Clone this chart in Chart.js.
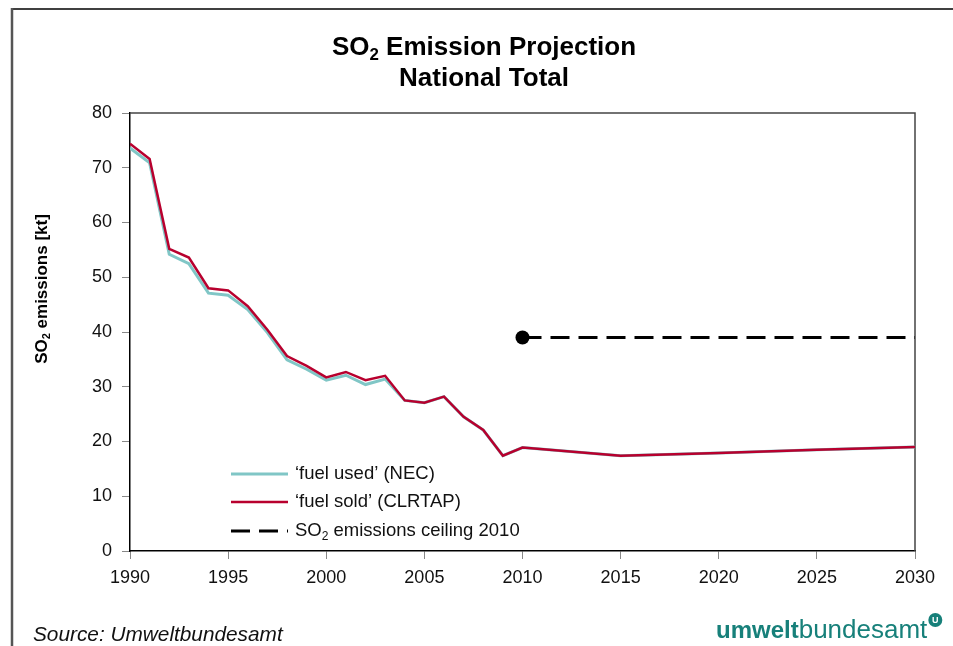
<!DOCTYPE html>
<html>
<head>
<meta charset="utf-8">
<script src="https://cdn.jsdelivr.net/npm/chart.js@4.4.0/dist/chart.umd.min.js"></script>
<style>
  html, body { margin: 0; padding: 0; background: #fff; }
  #wrap { width: 953px; height: 646px; }
</style>
</head>
<body>
<div id="wrap"><canvas id="so2Chart" width="953" height="646"></canvas></div>
<script>
// values
const years = [1990, 1991, 1992, 1993, 1994, 1995, 1996, 1997, 1998, 1999,
               2000, 2001, 2002, 2003, 2004, 2005, 2006, 2007, 2008, 2009,
               2010, 2015, 2020, 2025, 2030];
const fuelUsed = [73.6, 70.9, 54.2, 52.5, 47.1, 46.7, 44.1, 39.9, 34.9, 33.2,
                  31.2, 32.1, 30.4, 31.4, 27.5, 27.1, 28.2, 24.5, 22.1, 17.4,
                  18.9, 17.4, 17.9, 18.5, 19.0];
const fuelSold = [74.4, 71.6, 55.2, 53.6, 48.0, 47.6, 44.7, 40.4, 35.6, 33.8,
                  31.7, 32.7, 31.2, 32.0, 27.5, 27.1, 28.2, 24.5, 22.1, 17.4,
                  18.9, 17.4, 17.9, 18.5, 19.0];
const ceilingYears = [2010, 2030];
const ceilingValues = [39, 39];

const xTicks = [1990, 1995, 2000, 2005, 2010, 2015, 2020, 2025, 2030];
const yTicks = [0, 10, 20, 30, 40, 50, 60, 70, 80];

// text pieces, [text, isSubscript]
const titleLines = [
  [['SO', false], ['2', true], [' Emission Projection', false]],
  [['National Total', false]]
];
const yTitle = [['SO', false], ['2', true], [' emissions [kt]', false]];
const legendLabels = [
  [['\u2018fuel used\u2019 (NEC)', false]],
  [['\u2018fuel sold\u2019 (CLRTAP)', false]],
  [['SO', false], ['2', true], [' emissions ceiling 2010', false]]
];

const FONT = '"Liberation Sans", Arial, sans-serif';
const TEAL = '#17807a';

function pts(xs, ys) {
  return xs.map((x, i) => ({ x: x, y: ys[i] }));
}

function richWidth(ctx, parts, size, weight, style) {
  let w = 0;
  parts.forEach(p => {
    ctx.font = style + ' ' + weight + ' ' + (p[1] ? size * 0.65 : size) + 'px ' + FONT;
    w += ctx.measureText(p[0]).width;
  });
  return w;
}

function drawRich(ctx, parts, x, y, size, weight, style, align) {
  const total = richWidth(ctx, parts, size, weight, style);
  let cx = align === 'center' ? x - total / 2 : x;
  ctx.textAlign = 'left';
  ctx.textBaseline = 'alphabetic';
  parts.forEach(p => {
    ctx.font = style + ' ' + weight + ' ' + (p[1] ? size * 0.65 : size) + 'px ' + FONT;
    ctx.fillText(p[0], cx, y + (p[1] ? size * 0.2 : 0));
    cx += ctx.measureText(p[0]).width;
  });
}

const decorations = {
  id: 'decorations',
  beforeDraw(chart) {
    const ctx = chart.ctx;
    ctx.save();
    ctx.fillStyle = '#fff';
    ctx.fillRect(0, 0, chart.width, chart.height);
    ctx.restore();
  },
  beforeDatasetsDraw(chart) {
    const ctx = chart.ctx;
    const a = chart.chartArea;
    ctx.save();
    // top and right edge of the plot box
    ctx.strokeStyle = '#444';
    ctx.lineWidth = 1.5;
    ctx.beginPath();
    ctx.moveTo(a.left, a.top);
    ctx.lineTo(a.right, a.top);
    ctx.lineTo(a.right, a.bottom);
    ctx.stroke();
    ctx.restore();
  },
  afterDraw(chart) {
    const ctx = chart.ctx;
    ctx.save();

    // outer frame (top and left only)
    ctx.strokeStyle = '#000';
    ctx.lineWidth = 1.5;
    ctx.beginPath();
    ctx.moveTo(12, 9);
    ctx.lineTo(953, 9);
    ctx.stroke();
    ctx.strokeStyle = '#555';
    ctx.lineWidth = 2.5;
    ctx.beginPath();
    ctx.moveTo(12, 8);
    ctx.lineTo(12, 646);
    ctx.stroke();

    // title
    ctx.fillStyle = '#000';
    drawRich(ctx, titleLines[0], 484, 55, 26, 'bold', 'normal', 'center');
    drawRich(ctx, titleLines[1], 484, 86, 26, 'bold', 'normal', 'center');

    // y axis title
    ctx.save();
    ctx.translate(47, 289);
    ctx.rotate(-Math.PI / 2);
    drawRich(ctx, yTitle, 0, 0, 17, 'bold', 'normal', 'center');
    ctx.restore();

    // legend, styled from the datasets
    const order = [1, 0, 2];
    const rowY = [474, 502, 531];
    order.forEach((di, row) => {
      const ds = chart.data.datasets[di];
      ctx.strokeStyle = ds.borderColor;
      ctx.lineWidth = ds.borderWidth;
      ctx.setLineDash(ds.borderDash || []);
      ctx.beginPath();
      ctx.moveTo(231, rowY[row]);
      ctx.lineTo(288, rowY[row]);
      ctx.stroke();
      ctx.setLineDash([]);
      ctx.fillStyle = '#111';
      drawRich(ctx, legendLabels[row], 295, rowY[row] + 5, 18.5, 'normal', 'normal', 'left');
    });

    // source note
    ctx.fillStyle = '#111';
    drawRich(ctx, [['Source: Umweltbundesamt', false]], 33, 641, 20.8, 'normal', 'italic', 'left');

    // logo text
    ctx.fillStyle = TEAL;
    ctx.textAlign = 'left';
    ctx.textBaseline = 'alphabetic';
    ctx.font = 'bold 24px ' + FONT;
    ctx.fillText('umwelt', 716, 638);
    const w1 = ctx.measureText('umwelt').width;
    ctx.font = 'normal 26px ' + FONT;
    ctx.fillText('bundesamt', 716 + w1, 638);
    const w2 = ctx.measureText('bundesamt').width;
    const cx = 716 + w1 + w2 + 8, cy = 620;
    ctx.beginPath();
    ctx.arc(cx, cy, 7, 0, Math.PI * 2);
    ctx.fill();
    ctx.fillStyle = '#fff';
    ctx.font = 'bold 9px ' + FONT;
    ctx.textAlign = 'center';
    ctx.textBaseline = 'middle';
    ctx.fillText('U', cx, cy + 0.5);

    ctx.restore();
  }
};

const ctx = document.getElementById('so2Chart').getContext('2d');
const so2Chart = new Chart(ctx, {
  type: 'line',
  data: {
    datasets: [{
      label: 'fuel sold (CLRTAP)',
      data: pts(years, fuelSold),
      borderColor: '#b8002e',
      backgroundColor: '#b8002e',
      borderWidth: 2.5,
      pointRadius: 0,
      tension: 0
    }, {
      label: 'fuel used (NEC)',
      data: pts(years, fuelUsed),
      borderColor: '#80c6c6',
      backgroundColor: '#80c6c6',
      borderWidth: 3,
      pointRadius: 0,
      tension: 0
    }, {
      label: 'SO2 emissions ceiling 2010',
      data: pts(ceilingYears, ceilingValues),
      borderColor: '#000',
      backgroundColor: '#000',
      borderWidth: 3,
      borderDash: [19, 9],
      pointRadius: [7, 0],
      pointBackgroundColor: '#000',
      pointBorderWidth: 0,
      tension: 0
    }]
  },
  options: {
    responsive: false,
    animation: false,
    events: [],
    layout: { padding: { top: 113, left: 12, right: 38, bottom: 57 } },
    plugins: {
      legend: { display: false },
      title: { display: false },
      tooltip: { enabled: false }
    },
    scales: {
      x: {
        type: 'linear',
        min: 1990,
        max: 2030,
        afterFit: s => { s.height = 38; },
        afterBuildTicks: s => { s.ticks = xTicks.map(v => ({ value: v })); },
        grid: { drawOnChartArea: false, drawTicks: true, tickLength: 8, color: '#888' },
        border: { display: true, color: '#000', width: 1.5 },
        ticks: {
          autoSkip: false,
          maxRotation: 0,
          padding: 8,
          color: '#111',
          font: { family: FONT, size: 18 },
          callback: v => String(v)
        }
      },
      y: {
        min: 0,
        max: 80,
        afterFit: s => { s.width = 118; },
        afterBuildTicks: s => { s.ticks = yTicks.map(v => ({ value: v })); },
        grid: { drawOnChartArea: false, drawTicks: true, tickLength: 8, color: '#888' },
        border: { display: true, color: '#000', width: 1.5 },
        ticks: {
          padding: 10,
          color: '#111',
          font: { family: FONT, size: 18 },
          callback: v => String(v)
        }
      }
    }
  },
  plugins: [decorations]
});
</script>
</body>
</html>
